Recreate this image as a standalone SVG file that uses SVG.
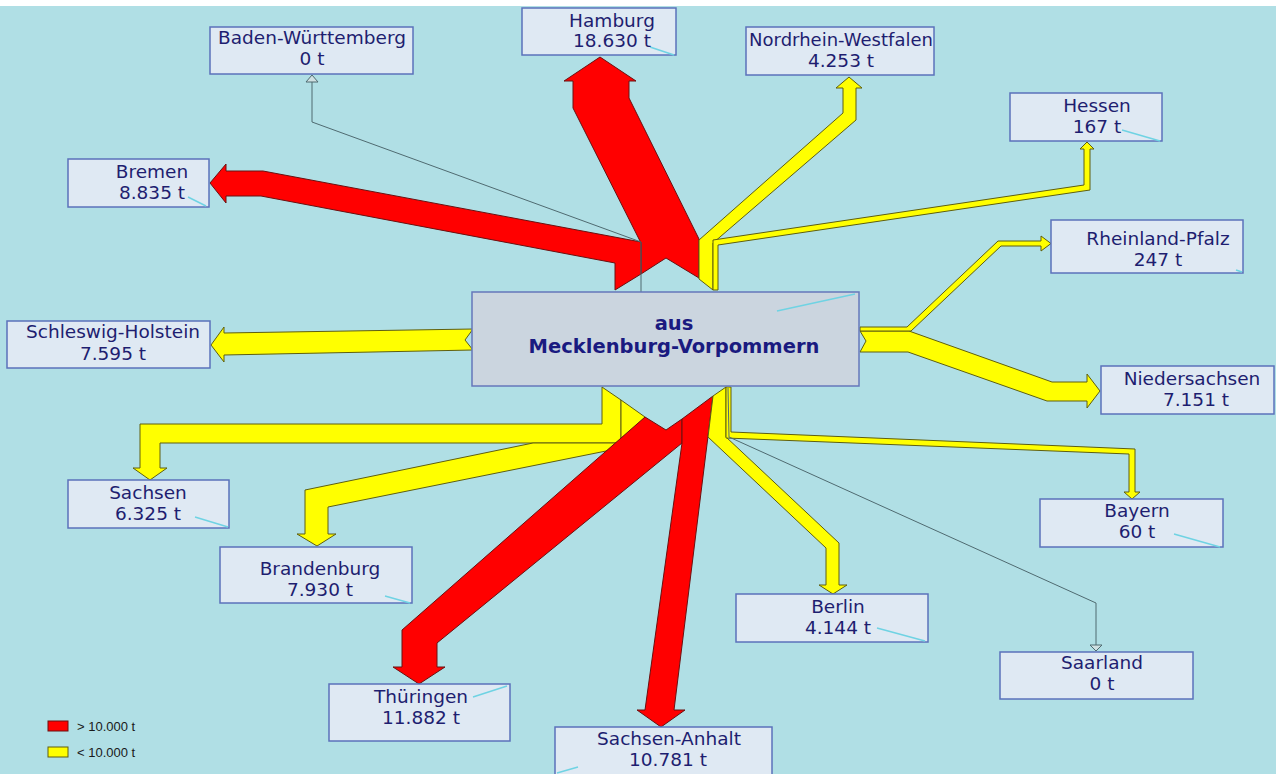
<svg xmlns="http://www.w3.org/2000/svg" width="1276" height="774" viewBox="0 0 1276 774">
<style>
.box{fill:#dfe9f3;stroke:#5b72bb;stroke-width:1.5}
.lbl{font-family:"DejaVu Sans",Verdana,sans-serif;font-size:18.5px;fill:#1e1e70;text-anchor:middle}
.red{fill:#ff0000;stroke:#6a1010;stroke-width:1;stroke-linejoin:round}
.yel{fill:#ffff00;stroke:#5e5e10;stroke-width:1;stroke-linejoin:round}
.thin{fill:none;stroke:#4f6a70;stroke-width:1}
.head0{fill:#cfe0e2;stroke:#4f6a70;stroke-width:1}
.glint{stroke:#6fd3e3;stroke-width:1.5}
.leg{font-family:"Liberation Sans",Arial,sans-serif;font-size:13px;fill:#1a1a1a}
</style>
<rect x="0" y="0" width="1276" height="774" fill="#ffffff"/>
<rect x="0" y="6" width="1276" height="768" fill="#b0dfe5"/>

<g id="connectors">
  <!-- Hamburg -->
  <polygon class="red" points="600,57 636,81 629,81 629,98 699,239 699,278 666,258 641,274 641,243 573,108 573,81 564,81"/>
  <!-- Bremen -->
  <polygon class="red" points="210,183 226,164 226,171 263,171 641,242 641,274 615,290 615,263 261,196 226,196 226,203"/>
  <!-- Baden-Wuerttemberg -->
  <polyline class="thin" points="641,292 641,242 312,122 312,82"/>
  <polygon class="head0" points="312,75 306,82 318,82"/>
  <!-- NRW -->
  <polygon class="yel" points="849,77 862,88 856,88 856,120 713,243 713,290 699,279 699,240 843,113 843,88 836,88"/>
  <!-- Hessen -->
  <polygon class="yel" points="713,290 713,240 1084,185 1084,149 1080,149 1087,142 1094,149 1090,149 1090,190 718,245 718,290"/>
  <!-- Niedersachsen -->
  <polygon class="yel" points="860,331 909,331 1052,382 1087,382 1087,374 1100,391 1087,408 1087,401 1047,401 908,352 860,352 866,341"/>
  <!-- Rheinland-Pfalz -->
  <polygon class="yel" points="860,327 907,327 998,241 1041,241 1041,236 1051,243.5 1041,251 1041,246 1001,246 911,331 860,331"/>
  <!-- Schleswig-Holstein -->
  <polygon class="yel" points="211,345 224,327 224,333 473,329 465,340 473,350 224,355 224,362"/>
  <!-- Sachsen -->
  <polygon class="yel" points="602,387 621,400 621,443 160,443 160,468 167,468 150,480 133,468 140,468 140,424 602,424"/>
  <!-- Brandenburg -->
  <polygon class="yel" points="621,400 645,417 621,448 328,507 328,534 336,534 317,546 297,534 305,534 305,490 533,443 621,443"/>
  <!-- Thueringen -->
  <polygon class="red" points="645,417 666,430 682,419 682,443 437,643 437,667 445,667 419,684 393,667 402,667 402,630"/>
  <!-- Sachsen-Anhalt -->
  <polygon class="red" points="682,419 713,396 674,710 685,710 661,727 637,710 645,710 682,443"/>
  <!-- Berlin -->
  <polygon class="yel" points="713,396 726,387 726,437 839,543 839,585 847,585 833,594 819,585 826,585 826,548 708,437"/>
  <!-- Bayern -->
  <polygon class="yel" points="726,387 731,387 731,432 1135,449 1135,492 1140,492 1132,499 1124,492 1129,492 1129,454 726,438"/>
  <!-- Saarland -->
  <polyline class="thin" points="728,388 729,437 1096,603 1096,645"/>
  <polygon class="head0" points="1096,651 1090,645 1102,645"/>
</g>

<g id="center">
  <rect x="472" y="292" width="387" height="94" fill="#cbd5df" stroke="#6677bb" stroke-width="1.5"/>
  <line class="glint" x1="777" y1="311" x2="855" y2="294"/>
  <text x="674" y="330" font-family="DejaVu Sans,Verdana,sans-serif" font-size="19.5" font-weight="bold" fill="#1a1a80" text-anchor="middle">aus</text>
  <text x="674" y="353" font-family="DejaVu Sans,Verdana,sans-serif" font-size="19.5" font-weight="bold" fill="#1a1a80" text-anchor="middle">Mecklenburg-Vorpommern</text>
</g>

<g id="baden-wuerttemberg">
  <rect class="box" x="210" y="27" width="203" height="47"/>
  <text class="lbl" x="312" y="44">Baden-Württemberg</text>
  <text class="lbl" x="312" y="65">0 t</text>
</g>
<g id="hamburg">
  <rect class="box" x="522" y="8" width="154" height="47"/>
  <line class="glint" x1="650" y1="47" x2="674" y2="55"/>
  <text class="lbl" x="612" y="27">Hamburg</text>
  <text class="lbl" x="612" y="47">18.630 t</text>
</g>
<g id="nordrhein-westfalen">
  <rect class="box" x="746" y="27" width="188" height="48"/>
  <text class="lbl" x="841" y="46" style="font-size:18px">Nordrhein-Westfalen</text>
  <text class="lbl" x="841" y="67">4.253 t</text>
</g>
<g id="hessen">
  <rect class="box" x="1010" y="93" width="152" height="48"/>
  <line class="glint" x1="1122" y1="130" x2="1160" y2="141"/>
  <text class="lbl" x="1097" y="112">Hessen</text>
  <text class="lbl" x="1097" y="133">167 t</text>
</g>
<g id="rheinland-pfalz">
  <rect class="box" x="1051" y="220" width="192" height="53"/>
  <line class="glint" x1="1236" y1="270" x2="1242" y2="272"/>
  <text class="lbl" x="1158" y="245">Rheinland-Pfalz</text>
  <text class="lbl" x="1158" y="266">247 t</text>
</g>
<g id="niedersachsen">
  <rect class="box" x="1101" y="366" width="173" height="48"/>
  <text class="lbl" x="1192" y="385">Niedersachsen</text>
  <text class="lbl" x="1196" y="406">7.151 t</text>
</g>
<g id="bayern">
  <rect class="box" x="1040" y="499" width="183" height="48"/>
  <line class="glint" x1="1174" y1="534" x2="1220" y2="547"/>
  <text class="lbl" x="1137" y="517">Bayern</text>
  <text class="lbl" x="1137" y="538">60 t</text>
</g>
<g id="saarland">
  <rect class="box" x="1000" y="652" width="193" height="47"/>
  <text class="lbl" x="1102" y="669">Saarland</text>
  <text class="lbl" x="1102" y="690">0 t</text>
</g>
<g id="berlin">
  <rect class="box" x="736" y="594" width="192" height="48"/>
  <line class="glint" x1="877" y1="628" x2="925" y2="641"/>
  <text class="lbl" x="838" y="613">Berlin</text>
  <text class="lbl" x="838" y="634">4.144 t</text>
</g>
<g id="sachsen-anhalt">
  <rect class="box" x="555" y="727" width="217" height="50"/>
  <line class="glint" x1="557" y1="773" x2="578" y2="767"/>
  <text class="lbl" x="669" y="745">Sachsen-Anhalt</text>
  <text class="lbl" x="668" y="766">10.781 t</text>
</g>
<g id="thueringen">
  <rect class="box" x="329" y="684" width="181" height="57"/>
  <line class="glint" x1="473" y1="697" x2="507" y2="686"/>
  <text class="lbl" x="421" y="703">Thüringen</text>
  <text class="lbl" x="421" y="724">11.882 t</text>
</g>
<g id="brandenburg">
  <rect class="box" x="220" y="547" width="192" height="56"/>
  <line class="glint" x1="385" y1="596" x2="410" y2="603"/>
  <text class="lbl" x="320" y="575">Brandenburg</text>
  <text class="lbl" x="320" y="596">7.930 t</text>
</g>
<g id="sachsen">
  <rect class="box" x="68" y="480" width="161" height="48"/>
  <line class="glint" x1="195" y1="517" x2="228" y2="527"/>
  <text class="lbl" x="148" y="499">Sachsen</text>
  <text class="lbl" x="148" y="520">6.325 t</text>
</g>
<g id="schleswig-holstein">
  <rect class="box" x="7" y="321" width="203" height="47"/>
  <text class="lbl" x="113" y="338">Schleswig-Holstein</text>
  <text class="lbl" x="113" y="360">7.595 t</text>
</g>
<g id="bremen">
  <rect class="box" x="68" y="159" width="141" height="48"/>
  <line class="glint" x1="188" y1="197" x2="206" y2="206"/>
  <text class="lbl" x="152" y="178">Bremen</text>
  <text class="lbl" x="152" y="199">8.835 t</text>
</g>

<g id="legend">
  <rect x="48" y="721" width="20" height="10" fill="#ff0000" stroke="#6a1010" stroke-width="1"/>
  <text class="leg" x="77" y="731">&gt; 10.000 t</text>
  <rect x="48" y="747" width="20" height="10" fill="#ffff00" stroke="#5e5e10" stroke-width="1"/>
  <text class="leg" x="77" y="757">&lt; 10.000 t</text>
</g>
</svg>
